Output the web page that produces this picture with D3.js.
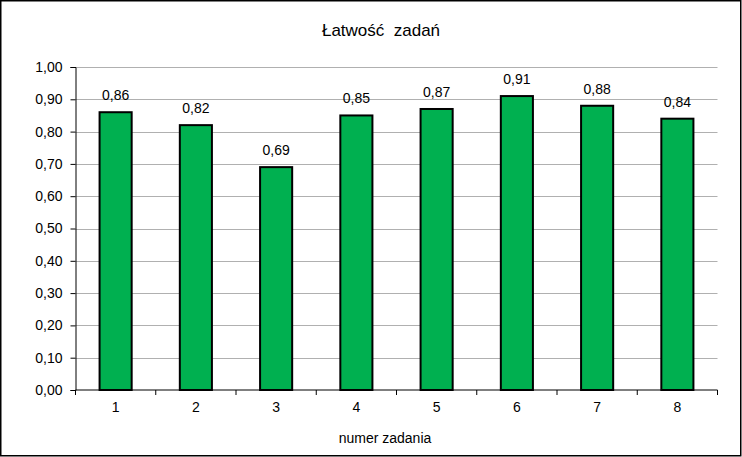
<!DOCTYPE html>
<html><head><meta charset="utf-8">
<script src="https://cdn.jsdelivr.net/npm/d3@7"></script>
<style>body{margin:0;background:#fff}svg{display:block}text{font-family:"Liberation Sans",Arial,sans-serif}</style>
</head><body><svg id="c" width="742" height="457"></svg>
<script>
const categories = ["1","2","3","4","5","6","7","8"];
const values = [0.86, 0.82, 0.69, 0.85, 0.87, 0.91, 0.88, 0.84];
const yTicks = [0,0.1,0.2,0.3,0.4,0.5,0.6,0.7,0.8,0.9,1.0];
const title = "Łatwość  zadań";
const xTitle = "numer zadania";

const svg = d3.select("#c");
const fmt = v => v.toFixed(2).replace(".", ",");
const pLeft = 75.5, pRight = 717.5, pTop = 67, pBottom = 390;
const x = d3.scaleBand().domain(categories).range([pLeft, pRight]).paddingInner(0.6).paddingOuter(0.3);
const xb = d3.scaleBand().domain(categories).range([pLeft, pRight]);
const y = d3.scaleLinear().domain([0, 1]).range([pBottom, pTop]);

svg.append("rect").attr("x",0.75).attr("y",0.75).attr("width",740).attr("height",455).attr("fill","#fff").attr("stroke","#000").attr("stroke-width",1.5);

// gridlines
svg.append("g").selectAll("line").data(yTicks.slice(1)).join("line")
  .attr("x1", pLeft).attr("x2", pRight).attr("y1", d => Math.round(y(d))+0.5).attr("y2", d => Math.round(y(d))+0.5)
  .attr("stroke", "#b0b0b0").attr("stroke-width", 1);

// y axis
const ya = svg.append("g").attr("transform", `translate(${pLeft},0)`)
  .call(d3.axisLeft(y).tickValues(yTicks).tickFormat(fmt).tickSize(5).tickPadding(8));
ya.select(".domain").attr("stroke","#000");
ya.selectAll(".tick line").attr("stroke","#000");
ya.selectAll("text").attr("font-size", 14).attr("fill","#000").attr("font-family",'"Liberation Sans",Arial,sans-serif');

// bars
svg.append("g").selectAll("rect").data(values).join("rect")
  .attr("x", (d,i) => x(categories[i])).attr("width", x.bandwidth())
  .attr("y", d => y(d)).attr("height", d => y(0) - y(d))
  .attr("fill", "#00B050").attr("stroke", "#000").attr("stroke-width", 2);

// x axis
const xa = svg.append("g").attr("transform", `translate(0,${pBottom})`);
xa.append("line").attr("x1", pLeft).attr("x2", pRight).attr("stroke","#000");
xa.selectAll(".t").data(categories.concat(["end"])).join("line")
  .attr("x1", (d,i) => i < categories.length ? xb(d) : pRight)
  .attr("x2", (d,i) => i < categories.length ? xb(d) : pRight)
  .attr("y1", 0).attr("y2", 5).attr("stroke","#000");
xa.selectAll("text").data(categories).join("text")
  .attr("x", d => xb(d) + xb.bandwidth()/2).attr("y", 22)
  .attr("text-anchor","middle").attr("font-size", 14).text(d => d);

// value labels
svg.append("g").selectAll("text").data(values).join("text")
  .attr("x", (d,i) => x(categories[i]) + x.bandwidth()/2)
  .attr("y", d => y(d) - 12).attr("text-anchor","middle").attr("font-size", 14).text(fmt);

svg.append("text").attr("x", 381).attr("y", 36).attr("text-anchor","middle").attr("font-size", 17).style("white-space","pre").text(title);
svg.append("text").attr("x", 385).attr("y", 443).attr("text-anchor","middle").attr("font-size", 14).text(xTitle);
</script></body></html>
